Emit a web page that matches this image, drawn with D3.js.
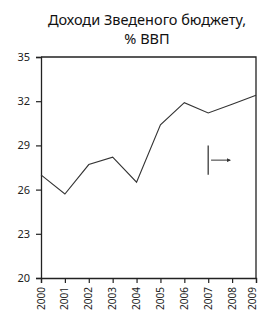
<!DOCTYPE html>
<html>
<head>
<meta charset="utf-8">
<script src="https://cdn.jsdelivr.net/npm/d3@7"></script>
<style>
  body { margin: 0; background: #fff; }
  svg { display: block; font-family: "Noto Sans", "Open Sans", sans-serif; }
</style>
</head>
<body>
<svg width="259" height="313"></svg>
<script>
var years = [2000, 2001, 2002, 2003, 2004, 2005, 2006, 2007, 2008, 2009];
var revenue = [27.0, 25.7, 27.7, 28.2, 26.5, 30.4, 31.9, 31.2, 31.8, 32.4];
var yTicks = [20, 23, 26, 29, 32, 35];
var titleLines = ['Доходи Зведеного бюджету,', '% ВВП'];

var svg = d3.select('svg');
var margin = {top: 57, right: 3, bottom: 35, left: 41};
var width = +svg.attr('width');
var height = +svg.attr('height');

var x = d3.scaleLinear()
    .domain(d3.extent(years))
    .range([margin.left, width - margin.right]);

var y = d3.scaleLinear()
    .domain([20, 35])
    .range([height - margin.bottom, margin.top]);

var ink = '#222';

// title
svg.append('g')
    .selectAll('text')
    .data(titleLines)
    .enter()
    .append('text')
    .attr('x', 147)
    .attr('y', (d, i) => 25 + i * 19)
    .attr('text-anchor', 'middle')
    .attr('font-size', 14.5)
    .attr('fill', '#111')
    .text(d => d);

// frame (top and right)
svg.append('path')
    .attr('d', d3.line()([
        [x.range()[0], y.range()[1]],
        [x.range()[1], y.range()[1]],
        [x.range()[1], y.range()[0]]
    ]))
    .attr('fill', 'none')
    .attr('stroke', ink)
    .attr('stroke-width', 1.3);

var yAxis = svg.append('g')
    .attr('transform', 'translate(' + margin.left + ',0)')
    .call(d3.axisLeft(y).tickValues(yTicks).tickSize(5).tickPadding(6));

var xAxis = svg.append('g')
    .attr('transform', 'translate(0,' + (height - margin.bottom) + ')')
    .call(d3.axisBottom(x).tickValues(years).tickFormat(d3.format('d')).tickSize(5));

[yAxis, xAxis].forEach(g => {
    g.select('.domain').attr('stroke', ink).attr('stroke-width', 1.3);
    g.selectAll('.tick line').attr('stroke', ink).attr('stroke-width', 1.2);
    g.selectAll('.tick text')
        .attr('fill', '#222')
        .attr('font-size', 11)
        .attr('font-family', '"Noto Sans", "Open Sans", sans-serif');
});

// rotated year labels; the last one is nudged in so it stays on the page
xAxis.selectAll('text')
    .attr('transform', 'rotate(-90)')
    .attr('text-anchor', 'end')
    .attr('font-size', 10)
    .attr('x', -9)
    .attr('y', 0)
    .attr('dy', d => d === years[years.length - 1] ? '-0.1em' : '0.3em');

// data line
var line = d3.line()
    .x((d, i) => x(years[i]))
    .y(d => y(d));

svg.append('path')
    .datum(revenue)
    .attr('d', line)
    .attr('fill', 'none')
    .attr('stroke', '#333')
    .attr('stroke-width', 1.1);

// little marker near 2007
svg.append('line')
    .attr('x1', x(2007)).attr('x2', x(2007))
    .attr('y1', y(29)).attr('y2', y(27))
    .attr('stroke', '#555')
    .attr('stroke-width', 1.5);

svg.append('defs').append('marker')
    .attr('id', 'head')
    .attr('viewBox', '0 0 6 6')
    .attr('refX', 5).attr('refY', 3)
    .attr('markerWidth', 4).attr('markerHeight', 4)
    .attr('orient', 'auto')
    .append('path')
    .attr('d', 'M0,0L6,3L0,6Z')
    .attr('fill', '#333');

svg.append('line')
    .attr('x1', x(2007.12)).attr('x2', x(2007.92))
    .attr('y1', y(28)).attr('y2', y(28))
    .attr('stroke', '#333')
    .attr('stroke-width', 1)
    .attr('marker-end', 'url(#head)');
</script>
</body>
</html>
